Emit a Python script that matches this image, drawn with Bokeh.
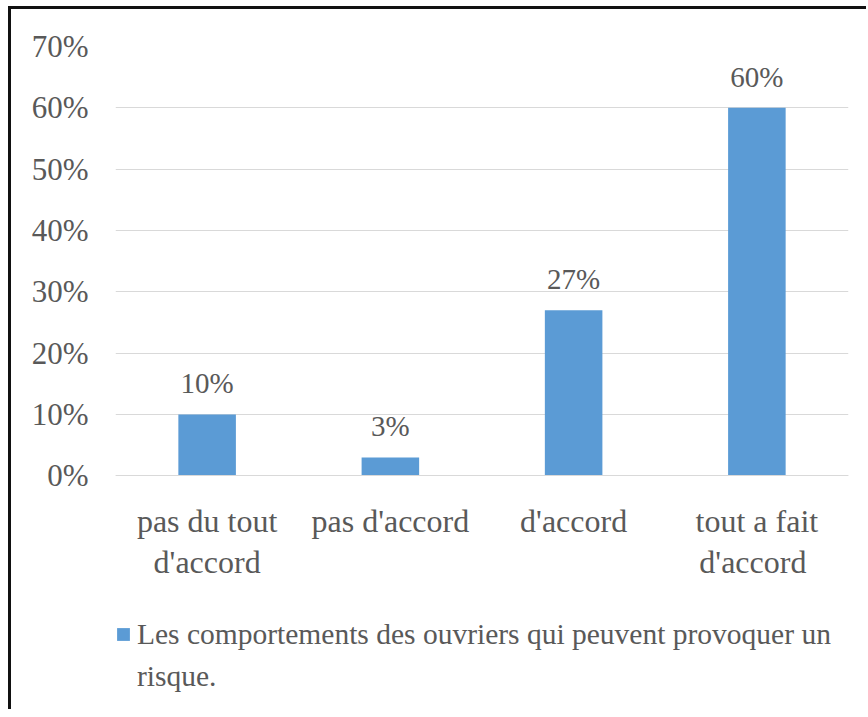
from bokeh.plotting import figure
from bokeh.models import (ColumnDataSource, FactorRange, Range1d, FixedTicker,
                          NumeralTickFormatter, LabelSet, Legend, LegendItem)
from bokeh.embed import file_html
from bokeh.resources import INLINE

# category labels, split over two lines as in the chart (line 1 near the axis)
label_line1 = ["pas du tout", "pas d'accord", "d'accord", "tout a fait"]
label_line2 = ["d'accord", " ", "  ", "d'accord "]
values = [0.10, 0.03, 0.27, 0.60]
value_labels = ["10%", "3%", "27%", "60%"]
y_ticks = [0.0, 0.1, 0.2, 0.3, 0.4, 0.5, 0.6, 0.7]
series_lines = ["Les comportements des ouvriers qui peuvent provoquer un", "risque."]

FONT = "Liberation Serif"
TXT = "#595959"
BAR = "#5B9BD5"

factors = list(zip(label_line2, label_line1))
src = ColumnDataSource(dict(cat=factors, val=values, lab=value_labels))

# the frame reaches down to the legend; the category axis sits at y = 0
p = figure(frame_width=733, frame_height=663, output_backend="svg", toolbar_location=None,
           x_range=FactorRange(*factors, group_padding=0, factor_padding=0, range_padding=0),
           y_range=Range1d(-0.381, 0.7),
           min_border_left=104, min_border_right=18, min_border_top=37,
           min_border_bottom=0)
p.styles = {"margin-left": "8px", "margin-top": "6px",
            "border-left": "3px solid #111111", "border-top": "3px solid #111111"}

r = p.vbar(x="cat", top="val", width=0.314, source=src, fill_color=BAR, line_color=None)
# wrapped second line of the series name: same bars, fully transparent, so no swatch shows
r2 = p.vbar(x="cat", top="val", width=0.314, source=src, fill_alpha=0, line_alpha=0)

p.outline_line_color = None
p.xgrid.grid_line_color = None
p.ygrid.ticker = FixedTicker(ticks=y_ticks)
p.ygrid.grid_line_color = "#D9D9D9"
p.ygrid.grid_line_width = 1.2

p.yaxis.ticker = FixedTicker(ticks=y_ticks)
p.yaxis.formatter = NumeralTickFormatter(format="0%")
p.yaxis.axis_line_color = None
p.yaxis.major_tick_line_color = None
p.yaxis.major_tick_out = 0
p.yaxis.minor_tick_line_color = None
p.yaxis.minor_tick_out = 0
p.yaxis.major_label_standoff = 27
p.yaxis.major_label_text_font = FONT
p.yaxis.major_label_text_font_size = "31px"
p.yaxis.major_label_text_color = TXT

xa = p.xaxis[0]
xa.fixed_location = 0
xa.axis_line_color = "#D9D9D9"
xa.major_tick_line_color = None
xa.major_tick_out = 25
xa.minor_tick_line_color = None
xa.separator_line_color = None
xa.major_label_standoff = 2
xa.major_label_text_font = FONT
xa.major_label_text_font_size = "32px"
xa.major_label_text_color = TXT
xa.group_text_font = FONT
xa.group_text_font_size = "32px"
xa.group_text_font_style = "normal"
xa.group_text_color = TXT

labels = LabelSet(x="cat", y="val", text="lab", source=src, text_align="center",
                  text_baseline="alphabetic", y_offset=21, text_font=FONT,
                  text_font_size="29px", text_color=TXT)
p.add_layout(labels)

legend = Legend(items=[LegendItem(label=series_lines[0], renderers=[r]),
                       LegendItem(label=series_lines[1], renderers=[r2])],
                location=(0, 12), padding=0, margin=0, spacing=0,
                glyph_width=16, glyph_height=16, label_standoff=6, label_height=42,
                label_text_font=FONT, label_text_font_size="29.5px",
                label_text_color=TXT,
                background_fill_alpha=0, border_line_color=None)
p.add_layout(legend, "center")

open("out.html", "w").write(file_html(p, INLINE))
